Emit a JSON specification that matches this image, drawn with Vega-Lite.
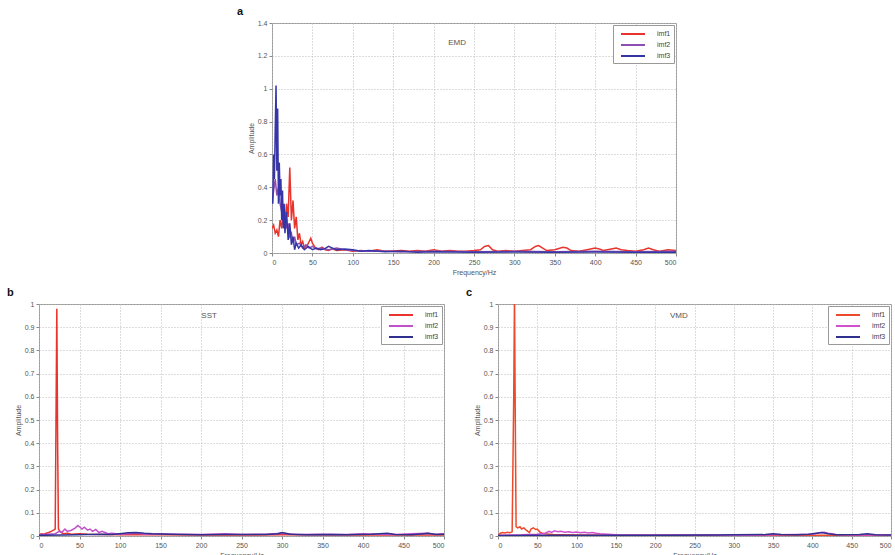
{
  "$schema": "https://vega.github.io/schema/vega-lite/v6.json",
  "padding": {"left": 6, "top": 5, "right": 0, "bottom": 0},
  "background": "white",
  "config": {
    "font": "Liberation Sans",
    "view": {"stroke": "#999", "strokeWidth": 1},
    "axis": {
      "grid": true, "gridDash": [1, 2], "gridColor": "#bbb", "gridOpacity": 1,
      "domain": false, "tickColor": "#888", "tickSize": 3, "labelOverlap": false, "labelSeparation": 0, "tickCount": 20,
      "labelFontSize": 7, "labelColor": "#555", "labelPadding": 2,
      "titleFontSize": 7, "titleFontWeight": "normal", "titleColor": "#555", "titlePadding": 3
    },
    "legend": {
      "orient": "top-right", "offset": 2, "padding": 3, "fillColor": "white", "strokeColor": "#999",
      "symbolType": "M-2.4,0H2.4", "symbolStrokeWidth": 2, "symbolSize": 100, "symbolOffset": 11, "labelOffset": 18,
      "labelFontSize": 7, "labelColor": "#444", "rowPadding": 1, "title": null
    },
    "title": {"anchor": "start", "frame": "group", "fontSize": 11, "fontWeight": "bold", "color": "#111", "offset": 2}
  },
  "datasets": {
    "a": [
      {"imf":"imf1","freq":0,"amp":0.15},{"imf":"imf1","freq":2,"amp":0.17},{"imf":"imf1","freq":4,"amp":0.12},{"imf":"imf1","freq":6,"amp":0.14},{"imf":"imf1","freq":8,"amp":0.1},{"imf":"imf1","freq":10,"amp":0.2},{"imf":"imf1","freq":12,"amp":0.15},{"imf":"imf1","freq":14,"amp":0.25},{"imf":"imf1","freq":16,"amp":0.18},{"imf":"imf1","freq":18,"amp":0.3},{"imf":"imf1","freq":20,"amp":0.22},{"imf":"imf1","freq":22,"amp":0.52},{"imf":"imf1","freq":24,"amp":0.2},{"imf":"imf1","freq":26,"amp":0.32},{"imf":"imf1","freq":28,"amp":0.15},{"imf":"imf1","freq":30,"amp":0.22},{"imf":"imf1","freq":32,"amp":0.08},{"imf":"imf1","freq":34,"amp":0.12},{"imf":"imf1","freq":36,"amp":0.05},{"imf":"imf1","freq":38,"amp":0.07},{"imf":"imf1","freq":40,"amp":0.03},{"imf":"imf1","freq":44,"amp":0.05},{"imf":"imf1","freq":48,"amp":0.09},{"imf":"imf1","freq":50,"amp":0.06},{"imf":"imf1","freq":54,"amp":0.03},{"imf":"imf1","freq":58,"amp":0.02},{"imf":"imf1","freq":62,"amp":0.035},{"imf":"imf1","freq":66,"amp":0.02},{"imf":"imf1","freq":70,"amp":0.015},{"imf":"imf1","freq":75,"amp":0.025},{"imf":"imf1","freq":80,"amp":0.015},{"imf":"imf1","freq":90,"amp":0.02},{"imf":"imf1","freq":100,"amp":0.01},{"imf":"imf1","freq":110,"amp":0.015},{"imf":"imf1","freq":120,"amp":0.01},{"imf":"imf1","freq":130,"amp":0.02},{"imf":"imf1","freq":140,"amp":0.01},{"imf":"imf1","freq":150,"amp":0.012},{"imf":"imf1","freq":160,"amp":0.015},{"imf":"imf1","freq":170,"amp":0.01},{"imf":"imf1","freq":180,"amp":0.015},{"imf":"imf1","freq":190,"amp":0.01},{"imf":"imf1","freq":200,"amp":0.02},{"imf":"imf1","freq":210,"amp":0.01},{"imf":"imf1","freq":220,"amp":0.015},{"imf":"imf1","freq":230,"amp":0.01},{"imf":"imf1","freq":240,"amp":0.01},{"imf":"imf1","freq":250,"amp":0.015},{"imf":"imf1","freq":258,"amp":0.02},{"imf":"imf1","freq":263,"amp":0.04},{"imf":"imf1","freq":268,"amp":0.045},{"imf":"imf1","freq":273,"amp":0.02},{"imf":"imf1","freq":280,"amp":0.01},{"imf":"imf1","freq":290,"amp":0.015},{"imf":"imf1","freq":300,"amp":0.01},{"imf":"imf1","freq":310,"amp":0.015},{"imf":"imf1","freq":320,"amp":0.02},{"imf":"imf1","freq":326,"amp":0.04},{"imf":"imf1","freq":330,"amp":0.045},{"imf":"imf1","freq":335,"amp":0.03},{"imf":"imf1","freq":340,"amp":0.015},{"imf":"imf1","freq":350,"amp":0.02},{"imf":"imf1","freq":360,"amp":0.035},{"imf":"imf1","freq":365,"amp":0.03},{"imf":"imf1","freq":370,"amp":0.015},{"imf":"imf1","freq":380,"amp":0.01},{"imf":"imf1","freq":390,"amp":0.02},{"imf":"imf1","freq":400,"amp":0.03},{"imf":"imf1","freq":405,"amp":0.025},{"imf":"imf1","freq":410,"amp":0.015},{"imf":"imf1","freq":420,"amp":0.025},{"imf":"imf1","freq":426,"amp":0.03},{"imf":"imf1","freq":432,"amp":0.02},{"imf":"imf1","freq":440,"amp":0.015},{"imf":"imf1","freq":450,"amp":0.01},{"imf":"imf1","freq":460,"amp":0.02},{"imf":"imf1","freq":466,"amp":0.03},{"imf":"imf1","freq":472,"amp":0.02},{"imf":"imf1","freq":480,"amp":0.01},{"imf":"imf1","freq":490,"amp":0.02},{"imf":"imf1","freq":500,"amp":0.015},
      {"imf":"imf2","freq":0,"amp":0.3},{"imf":"imf2","freq":2,"amp":0.38},{"imf":"imf2","freq":4,"amp":0.45},{"imf":"imf2","freq":6,"amp":0.35},{"imf":"imf2","freq":8,"amp":0.4},{"imf":"imf2","freq":10,"amp":0.3},{"imf":"imf2","freq":12,"amp":0.25},{"imf":"imf2","freq":14,"amp":0.2},{"imf":"imf2","freq":16,"amp":0.22},{"imf":"imf2","freq":18,"amp":0.15},{"imf":"imf2","freq":20,"amp":0.18},{"imf":"imf2","freq":22,"amp":0.1},{"imf":"imf2","freq":24,"amp":0.12},{"imf":"imf2","freq":26,"amp":0.06},{"imf":"imf2","freq":28,"amp":0.1},{"imf":"imf2","freq":30,"amp":0.05},{"imf":"imf2","freq":34,"amp":0.06},{"imf":"imf2","freq":38,"amp":0.03},{"imf":"imf2","freq":42,"amp":0.05},{"imf":"imf2","freq":46,"amp":0.03},{"imf":"imf2","freq":50,"amp":0.04},{"imf":"imf2","freq":55,"amp":0.025},{"imf":"imf2","freq":60,"amp":0.03},{"imf":"imf2","freq":70,"amp":0.02},{"imf":"imf2","freq":80,"amp":0.03},{"imf":"imf2","freq":90,"amp":0.02},{"imf":"imf2","freq":100,"amp":0.015},{"imf":"imf2","freq":120,"amp":0.01},{"imf":"imf2","freq":140,"amp":0.012},{"imf":"imf2","freq":160,"amp":0.008},{"imf":"imf2","freq":200,"amp":0.01},{"imf":"imf2","freq":250,"amp":0.008},{"imf":"imf2","freq":300,"amp":0.01},{"imf":"imf2","freq":350,"amp":0.008},{"imf":"imf2","freq":400,"amp":0.01},{"imf":"imf2","freq":450,"amp":0.008},{"imf":"imf2","freq":500,"amp":0.01},
      {"imf":"imf3","freq":0,"amp":0.35},{"imf":"imf3","freq":1,"amp":0.3},{"imf":"imf3","freq":2,"amp":0.6},{"imf":"imf3","freq":3,"amp":0.45},{"imf":"imf3","freq":4,"amp":0.75},{"imf":"imf3","freq":5,"amp":1.02},{"imf":"imf3","freq":6,"amp":0.5},{"imf":"imf3","freq":7,"amp":0.88},{"imf":"imf3","freq":8,"amp":0.3},{"imf":"imf3","freq":9,"amp":0.55},{"imf":"imf3","freq":10,"amp":0.35},{"imf":"imf3","freq":11,"amp":0.45},{"imf":"imf3","freq":12,"amp":0.2},{"imf":"imf3","freq":13,"amp":0.38},{"imf":"imf3","freq":14,"amp":0.15},{"imf":"imf3","freq":15,"amp":0.3},{"imf":"imf3","freq":16,"amp":0.12},{"imf":"imf3","freq":18,"amp":0.25},{"imf":"imf3","freq":20,"amp":0.08},{"imf":"imf3","freq":22,"amp":0.18},{"imf":"imf3","freq":24,"amp":0.05},{"imf":"imf3","freq":26,"amp":0.1},{"imf":"imf3","freq":28,"amp":0.02},{"imf":"imf3","freq":30,"amp":0.06},{"imf":"imf3","freq":33,"amp":0.03},{"imf":"imf3","freq":36,"amp":0.05},{"imf":"imf3","freq":40,"amp":0.02},{"imf":"imf3","freq":45,"amp":0.04},{"imf":"imf3","freq":50,"amp":0.02},{"imf":"imf3","freq":55,"amp":0.03},{"imf":"imf3","freq":60,"amp":0.02},{"imf":"imf3","freq":65,"amp":0.025},{"imf":"imf3","freq":70,"amp":0.04},{"imf":"imf3","freq":75,"amp":0.03},{"imf":"imf3","freq":80,"amp":0.02},{"imf":"imf3","freq":90,"amp":0.025},{"imf":"imf3","freq":100,"amp":0.02},{"imf":"imf3","freq":110,"amp":0.01},{"imf":"imf3","freq":120,"amp":0.015},{"imf":"imf3","freq":140,"amp":0.008},{"imf":"imf3","freq":160,"amp":0.01},{"imf":"imf3","freq":180,"amp":0.005},{"imf":"imf3","freq":200,"amp":0.008},{"imf":"imf3","freq":250,"amp":0.005},{"imf":"imf3","freq":300,"amp":0.006},{"imf":"imf3","freq":350,"amp":0.005},{"imf":"imf3","freq":400,"amp":0.006},{"imf":"imf3","freq":450,"amp":0.005},{"imf":"imf3","freq":500,"amp":0.005}
    ],
    "b": [
      {"imf":"imf1","freq":0,"amp":0.005},{"imf":"imf1","freq":3,"amp":0.01},{"imf":"imf1","freq":6,"amp":0.008},{"imf":"imf1","freq":9,"amp":0.012},{"imf":"imf1","freq":12,"amp":0.015},{"imf":"imf1","freq":15,"amp":0.02},{"imf":"imf1","freq":18,"amp":0.025},{"imf":"imf1","freq":20,"amp":0.03},{"imf":"imf1","freq":21,"amp":0.5},{"imf":"imf1","freq":22,"amp":0.98},{"imf":"imf1","freq":23,"amp":0.4},{"imf":"imf1","freq":24,"amp":0.03},{"imf":"imf1","freq":26,"amp":0.02},{"imf":"imf1","freq":28,"amp":0.015},{"imf":"imf1","freq":30,"amp":0.01},{"imf":"imf1","freq":35,"amp":0.012},{"imf":"imf1","freq":40,"amp":0.008},{"imf":"imf1","freq":50,"amp":0.01},{"imf":"imf1","freq":60,"amp":0.008},{"imf":"imf1","freq":80,"amp":0.006},{"imf":"imf1","freq":100,"amp":0.005},{"imf":"imf1","freq":150,"amp":0.005},{"imf":"imf1","freq":200,"amp":0.004},{"imf":"imf1","freq":300,"amp":0.005},{"imf":"imf1","freq":400,"amp":0.004},{"imf":"imf1","freq":500,"amp":0.004},
      {"imf":"imf2","freq":0,"amp":0.005},{"imf":"imf2","freq":10,"amp":0.008},{"imf":"imf2","freq":20,"amp":0.01},{"imf":"imf2","freq":25,"amp":0.02},{"imf":"imf2","freq":28,"amp":0.015},{"imf":"imf2","freq":32,"amp":0.03},{"imf":"imf2","freq":35,"amp":0.02},{"imf":"imf2","freq":40,"amp":0.025},{"imf":"imf2","freq":45,"amp":0.035},{"imf":"imf2","freq":48,"amp":0.045},{"imf":"imf2","freq":50,"amp":0.04},{"imf":"imf2","freq":53,"amp":0.03},{"imf":"imf2","freq":56,"amp":0.038},{"imf":"imf2","freq":60,"amp":0.025},{"imf":"imf2","freq":63,"amp":0.03},{"imf":"imf2","freq":66,"amp":0.02},{"imf":"imf2","freq":70,"amp":0.028},{"imf":"imf2","freq":74,"amp":0.015},{"imf":"imf2","freq":78,"amp":0.02},{"imf":"imf2","freq":85,"amp":0.01},{"imf":"imf2","freq":90,"amp":0.012},{"imf":"imf2","freq":100,"amp":0.008},{"imf":"imf2","freq":110,"amp":0.01},{"imf":"imf2","freq":120,"amp":0.012},{"imf":"imf2","freq":130,"amp":0.008},{"imf":"imf2","freq":150,"amp":0.01},{"imf":"imf2","freq":170,"amp":0.008},{"imf":"imf2","freq":200,"amp":0.006},{"imf":"imf2","freq":230,"amp":0.01},{"imf":"imf2","freq":250,"amp":0.007},{"imf":"imf2","freq":280,"amp":0.008},{"imf":"imf2","freq":300,"amp":0.012},{"imf":"imf2","freq":320,"amp":0.006},{"imf":"imf2","freq":350,"amp":0.008},{"imf":"imf2","freq":380,"amp":0.006},{"imf":"imf2","freq":400,"amp":0.01},{"imf":"imf2","freq":420,"amp":0.008},{"imf":"imf2","freq":440,"amp":0.006},{"imf":"imf2","freq":460,"amp":0.01},{"imf":"imf2","freq":480,"amp":0.012},{"imf":"imf2","freq":490,"amp":0.008},{"imf":"imf2","freq":500,"amp":0.01},
      {"imf":"imf3","freq":0,"amp":0.003},{"imf":"imf3","freq":30,"amp":0.004},{"imf":"imf3","freq":60,"amp":0.006},{"imf":"imf3","freq":80,"amp":0.008},{"imf":"imf3","freq":90,"amp":0.006},{"imf":"imf3","freq":100,"amp":0.01},{"imf":"imf3","freq":110,"amp":0.014},{"imf":"imf3","freq":120,"amp":0.015},{"imf":"imf3","freq":130,"amp":0.012},{"imf":"imf3","freq":140,"amp":0.01},{"imf":"imf3","freq":160,"amp":0.008},{"imf":"imf3","freq":180,"amp":0.006},{"imf":"imf3","freq":200,"amp":0.005},{"imf":"imf3","freq":230,"amp":0.007},{"imf":"imf3","freq":250,"amp":0.006},{"imf":"imf3","freq":280,"amp":0.006},{"imf":"imf3","freq":295,"amp":0.01},{"imf":"imf3","freq":300,"amp":0.015},{"imf":"imf3","freq":310,"amp":0.008},{"imf":"imf3","freq":330,"amp":0.005},{"imf":"imf3","freq":360,"amp":0.006},{"imf":"imf3","freq":380,"amp":0.005},{"imf":"imf3","freq":410,"amp":0.008},{"imf":"imf3","freq":430,"amp":0.012},{"imf":"imf3","freq":440,"amp":0.006},{"imf":"imf3","freq":460,"amp":0.005},{"imf":"imf3","freq":475,"amp":0.01},{"imf":"imf3","freq":480,"amp":0.012},{"imf":"imf3","freq":490,"amp":0.006},{"imf":"imf3","freq":500,"amp":0.008}
    ],
    "c": [
      {"imf":"imf1","freq":0,"amp":0.003},{"imf":"imf1","freq":3,"amp":0.012},{"imf":"imf1","freq":6,"amp":0.015},{"imf":"imf1","freq":9,"amp":0.013},{"imf":"imf1","freq":12,"amp":0.016},{"imf":"imf1","freq":15,"amp":0.014},{"imf":"imf1","freq":18,"amp":0.018},{"imf":"imf1","freq":20,"amp":0.6},{"imf":"imf1","freq":21,"amp":1.05},{"imf":"imf1","freq":22,"amp":0.5},{"imf":"imf1","freq":23,"amp":0.04},{"imf":"imf1","freq":25,"amp":0.035},{"imf":"imf1","freq":28,"amp":0.04},{"imf":"imf1","freq":30,"amp":0.03},{"imf":"imf1","freq":33,"amp":0.035},{"imf":"imf1","freq":36,"amp":0.025},{"imf":"imf1","freq":38,"amp":0.02},{"imf":"imf1","freq":40,"amp":0.015},{"imf":"imf1","freq":42,"amp":0.03},{"imf":"imf1","freq":45,"amp":0.035},{"imf":"imf1","freq":48,"amp":0.028},{"imf":"imf1","freq":50,"amp":0.03},{"imf":"imf1","freq":53,"amp":0.018},{"imf":"imf1","freq":56,"amp":0.012},{"imf":"imf1","freq":60,"amp":0.01},{"imf":"imf1","freq":65,"amp":0.008},{"imf":"imf1","freq":70,"amp":0.006},{"imf":"imf1","freq":80,"amp":0.005},{"imf":"imf1","freq":100,"amp":0.004},{"imf":"imf1","freq":150,"amp":0.003},{"imf":"imf1","freq":200,"amp":0.003},{"imf":"imf1","freq":300,"amp":0.003},{"imf":"imf1","freq":400,"amp":0.003},{"imf":"imf1","freq":500,"amp":0.003},
      {"imf":"imf2","freq":0,"amp":0.003},{"imf":"imf2","freq":30,"amp":0.005},{"imf":"imf2","freq":50,"amp":0.008},{"imf":"imf2","freq":60,"amp":0.012},{"imf":"imf2","freq":65,"amp":0.02},{"imf":"imf2","freq":68,"amp":0.015},{"imf":"imf2","freq":72,"amp":0.022},{"imf":"imf2","freq":76,"amp":0.018},{"imf":"imf2","freq":80,"amp":0.02},{"imf":"imf2","freq":85,"amp":0.016},{"imf":"imf2","freq":90,"amp":0.018},{"imf":"imf2","freq":95,"amp":0.015},{"imf":"imf2","freq":100,"amp":0.017},{"imf":"imf2","freq":105,"amp":0.014},{"imf":"imf2","freq":110,"amp":0.016},{"imf":"imf2","freq":115,"amp":0.013},{"imf":"imf2","freq":120,"amp":0.015},{"imf":"imf2","freq":125,"amp":0.012},{"imf":"imf2","freq":130,"amp":0.01},{"imf":"imf2","freq":140,"amp":0.008},{"imf":"imf2","freq":150,"amp":0.005},{"imf":"imf2","freq":200,"amp":0.004},{"imf":"imf2","freq":250,"amp":0.004},{"imf":"imf2","freq":300,"amp":0.003},{"imf":"imf2","freq":350,"amp":0.005},{"imf":"imf2","freq":380,"amp":0.006},{"imf":"imf2","freq":400,"amp":0.008},{"imf":"imf2","freq":410,"amp":0.014},{"imf":"imf2","freq":415,"amp":0.016},{"imf":"imf2","freq":420,"amp":0.012},{"imf":"imf2","freq":430,"amp":0.006},{"imf":"imf2","freq":450,"amp":0.004},{"imf":"imf2","freq":500,"amp":0.004},
      {"imf":"imf3","freq":0,"amp":0.002},{"imf":"imf3","freq":50,"amp":0.003},{"imf":"imf3","freq":100,"amp":0.003},{"imf":"imf3","freq":200,"amp":0.003},{"imf":"imf3","freq":280,"amp":0.004},{"imf":"imf3","freq":300,"amp":0.005},{"imf":"imf3","freq":340,"amp":0.006},{"imf":"imf3","freq":350,"amp":0.01},{"imf":"imf3","freq":360,"amp":0.006},{"imf":"imf3","freq":380,"amp":0.005},{"imf":"imf3","freq":395,"amp":0.008},{"imf":"imf3","freq":405,"amp":0.012},{"imf":"imf3","freq":412,"amp":0.015},{"imf":"imf3","freq":420,"amp":0.01},{"imf":"imf3","freq":430,"amp":0.005},{"imf":"imf3","freq":460,"amp":0.006},{"imf":"imf3","freq":470,"amp":0.01},{"imf":"imf3","freq":480,"amp":0.005},{"imf":"imf3","freq":500,"amp":0.004}
    ]
  },
  "resolve": {"scale": {"color": "independent", "x": "independent", "y": "independent"}, "legend": {"color": "independent"}},
  "spacing": 10,
  "vconcat": [
    {
      "resolve": {"scale": {"color": "independent", "x": "independent", "y": "independent"}, "legend": {"color": "independent"}},
      "spacing": 20,
      "hconcat": [
        {
          "width": 177, "height": 10,
          "data": {"values": [{}]},
          "mark": {"type": "text"},
          "encoding": {"text": {"value": ""}},
          "view": {"stroke": null, "fill": "white"}
        },
        {
          "width": 404, "height": 230,
          "title": {"text": "a", "dx": -35},
          "layer": [
            {
              "data": {"name": "a"},
              "mark": {"type": "line", "strokeWidth": 1.5, "clip": true},
              "encoding": {
                "x": {"field": "freq", "type": "quantitative", "scale": {"domain": [0, 500], "nice": false}, "axis": {"title": "Frequency/Hz", "values": [0,50,100,150,200,250,300,350,400,450,500], "tickCount": 20}},
                "y": {"field": "amp", "type": "quantitative", "scale": {"domain": [0, 1.4], "nice": false}, "axis": {"title": "Amplitude", "values": [0,0.2,0.4,0.6,0.8,1,1.2,1.4], "format": "~g", "tickCount": 20}},
                "color": {"field": "imf", "type": "nominal", "scale": {"domain": ["imf1","imf2","imf3"], "range": ["#e8342c", "#8e4fb0", "#3535a8"]}}
              }
            },
            {
              "data": {"values": [{}]},
              "mark": {"type": "text", "fontSize": 8, "color": "#555"},
              "encoding": {"x": {"datum": 229}, "y": {"datum": 1.28}, "text": {"value": "EMD"}}
            }
          ]
        }
      ]
    },
    {
      "resolve": {"scale": {"color": "independent", "x": "independent", "y": "independent"}, "legend": {"color": "independent"}},
      "spacing": 20,
      "hconcat": [
        {
          "width": 405, "height": 232,
          "title": {"text": "b", "dx": -32},
          "layer": [
            {
              "data": {"name": "b"},
              "mark": {"type": "line", "strokeWidth": 1.5, "clip": true},
              "encoding": {
                "x": {"field": "freq", "type": "quantitative", "scale": {"domain": [0, 500], "nice": false}, "axis": {"title": "Frequency/Hz", "values": [0,50,100,150,200,250,300,350,400,450,500], "tickCount": 20}},
                "y": {"field": "amp", "type": "quantitative", "scale": {"domain": [0, 1], "nice": false}, "axis": {"title": "Amplitude", "values": [0,0.1,0.2,0.3,0.4,0.5,0.6,0.7,0.8,0.9,1], "format": "~g", "tickCount": 20}},
                "color": {"field": "imf", "type": "nominal", "scale": {"domain": ["imf1","imf2","imf3"], "range": ["#e8342c", "#c050cc", "#30308f"]}}
              }
            },
            {
              "data": {"values": [{}]},
              "mark": {"type": "text", "fontSize": 8, "color": "#555"},
              "encoding": {"x": {"datum": 210}, "y": {"datum": 0.95}, "text": {"value": "SST"}}
            }
          ]
        },
        {
          "width": 393, "height": 232,
          "title": {"text": "c", "dx": -32},
          "layer": [
            {
              "data": {"name": "c"},
              "mark": {"type": "line", "strokeWidth": 1.5, "clip": true},
              "encoding": {
                "x": {"field": "freq", "type": "quantitative", "scale": {"domain": [0, 500], "nice": false}, "axis": {"title": "Frequency/Hz", "values": [0,50,100,150,200,250,300,350,400,450,500], "tickCount": 20}},
                "y": {"field": "amp", "type": "quantitative", "scale": {"domain": [0, 1], "nice": false}, "axis": {"title": "Amplitude", "values": [0,0.1,0.2,0.3,0.4,0.5,0.6,0.7,0.8,0.9,1], "format": "~g", "tickCount": 20}},
                "color": {"field": "imf", "type": "nominal", "scale": {"domain": ["imf1","imf2","imf3"], "range": ["#ec4a2a", "#d050d0", "#30308f"]}}
              }
            },
            {
              "data": {"values": [{}]},
              "mark": {"type": "text", "fontSize": 8, "color": "#555"},
              "encoding": {"x": {"datum": 230}, "y": {"datum": 0.95}, "text": {"value": "VMD"}}
            }
          ]
        }
      ]
    }
  ]
}
